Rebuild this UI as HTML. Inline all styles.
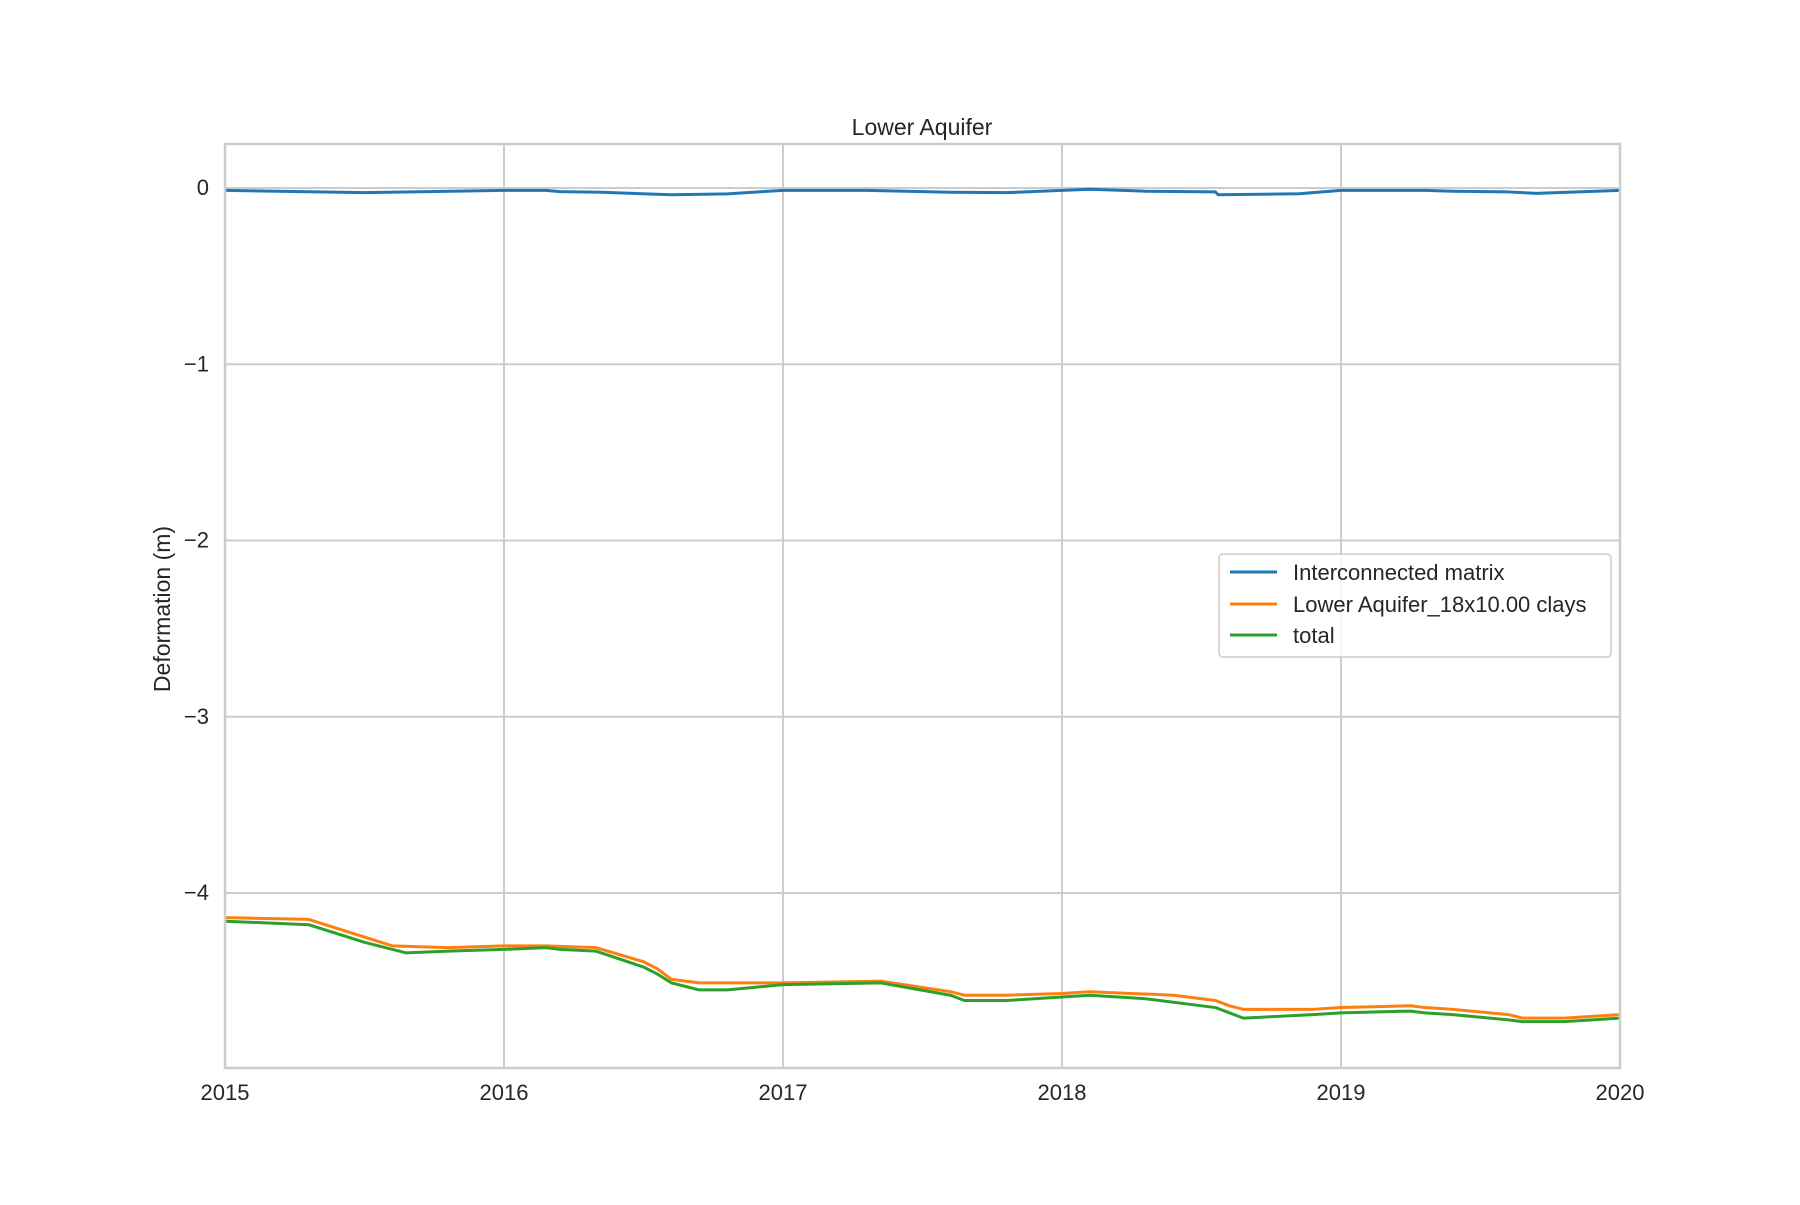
<!DOCTYPE html>
<html><head><meta charset="utf-8"><style>
body{margin:0;background:#fff}
svg text{font-family:"Liberation Sans","DejaVu Sans",sans-serif;fill:#262626}
</style></head><body>
<svg id="chart" width="1800" height="1200" xmlns="http://www.w3.org/2000/svg">
<rect width="1800" height="1200" fill="#fff"/>
<g id="grid"></g>
<g id="series"></g>
<rect x="225" y="144" width="1395" height="924" fill="none" stroke="#cccccc" stroke-width="2.5"/>
<g id="ticks"></g>
<text x="922" y="135" font-size="23" text-anchor="middle">Lower Aquifer</text>
<text x="170" y="609" font-size="23" text-anchor="middle" transform="rotate(-90 170 609)">Deformation (m)</text>
<g transform="translate(-6,-3)">
<rect x="1225" y="557" width="392" height="103" rx="4" fill="#fff" fill-opacity="0.8" stroke="#cccccc" stroke-width="1.5"/>
<line x1="1236" x2="1283" y1="575" y2="575" stroke="#1f77b4" stroke-width="3"/>
<text x="1299" y="583" font-size="22">Interconnected matrix</text>
<line x1="1236" x2="1283" y1="607" y2="607" stroke="#ff7f0e" stroke-width="3"/>
<text x="1299" y="615" font-size="22">Lower Aquifer_18x10.00 clays</text>
<line x1="1236" x2="1283" y1="638" y2="638" stroke="#2ca02c" stroke-width="3"/>
<text x="1299" y="646" font-size="22">total</text>
</g>
</svg>
<script>
const xTicks=[2015,2016,2017,2018,2019,2020];
const yTicks=[0,-1,-2,-3,-4];
const yTickLabels=["0","\u22121","\u22122","\u22123","\u22124"];
const blueX=[2015,2015.5,2016,2016.15,2016.2,2016.35,2016.6,2016.8,2017,2017.3,2017.6,2017.8,2018.1,2018.3,2018.55,2018.56,2018.85,2019,2019.3,2019.4,2019.6,2019.7,2020];
const blueY=[-0.013,-0.026,-0.013,-0.013,-0.02,-0.024,-0.038,-0.033,-0.013,-0.013,-0.024,-0.026,-0.007,-0.018,-0.022,-0.038,-0.032,-0.013,-0.013,-0.018,-0.022,-0.03,-0.013];
const orangeX=[2015,2015.3,2015.5,2015.6,2015.8,2016,2016.15,2016.33,2016.5,2016.55,2016.6,2016.7,2016.9,2017,2017.35,2017.6,2017.65,2017.8,2018,2018.1,2018.4,2018.55,2018.6,2018.65,2018.9,2019,2019.25,2019.3,2019.4,2019.6,2019.65,2019.8,2020];
const orangeY=[-4.14,-4.15,-4.25,-4.30,-4.31,-4.30,-4.30,-4.31,-4.39,-4.43,-4.49,-4.51,-4.51,-4.51,-4.50,-4.56,-4.58,-4.58,-4.57,-4.56,-4.58,-4.61,-4.64,-4.66,-4.66,-4.65,-4.64,-4.65,-4.66,-4.69,-4.71,-4.71,-4.69];
const greenX=[2015,2015.3,2015.5,2015.65,2015.8,2016,2016.15,2016.2,2016.33,2016.5,2016.55,2016.6,2016.7,2016.8,2017,2017.35,2017.6,2017.65,2017.8,2018,2018.1,2018.3,2018.55,2018.6,2018.65,2018.9,2019,2019.25,2019.3,2019.4,2019.6,2019.65,2019.8,2020];
const greenY=[-4.16,-4.18,-4.28,-4.34,-4.33,-4.32,-4.31,-4.32,-4.33,-4.42,-4.46,-4.51,-4.55,-4.55,-4.52,-4.51,-4.58,-4.61,-4.61,-4.59,-4.58,-4.60,-4.65,-4.68,-4.71,-4.69,-4.68,-4.67,-4.68,-4.69,-4.72,-4.73,-4.73,-4.71];
const X0=225,X1=1620,Y0=144,Y1=1068,XMIN=2015,XMAX=2020,YMIN=-4.993,YMAX=0.250;
const sx=v=>X0+(v-XMIN)/(XMAX-XMIN)*(X1-X0);
const sy=v=>Y1-(v-YMIN)/(YMAX-YMIN)*(Y1-Y0);
const NS="http://www.w3.org/2000/svg";
const grid=document.getElementById('grid'),ticks=document.getElementById('ticks'),ser=document.getElementById('series');
xTicks.forEach(t=>{
 const l=document.createElementNS(NS,'line');
 
 
 l.setAttribute('x1',sx(t));l.setAttribute('x2',sx(t));l.setAttribute('y1',Y0);l.setAttribute('y2',Y1);
 l.setAttribute('stroke','#cccccc');l.setAttribute('stroke-width','2');grid.appendChild(l);
 const tx=document.createElementNS(NS,'text');
 
 
 tx.setAttribute('x',sx(t));tx.setAttribute('y',1100);tx.setAttribute('font-size','22');tx.setAttribute('text-anchor','middle');
 tx.textContent=t;ticks.appendChild(tx);
});
yTicks.forEach((t,i)=>{
 const l=document.createElementNS(NS,'line');
 
 
 l.setAttribute('x1',X0);l.setAttribute('x2',X1);l.setAttribute('y1',sy(t));l.setAttribute('y2',sy(t));
 l.setAttribute('stroke','#cccccc');l.setAttribute('stroke-width','2');grid.appendChild(l);
 const tx=document.createElementNS(NS,'text');
 
 
 tx.setAttribute('x',209);tx.setAttribute('y',sy(t)+7);tx.setAttribute('font-size','22');tx.setAttribute('text-anchor','end');
 tx.textContent=yTickLabels[i];ticks.appendChild(tx);
});
function line(xs,ys,c,name){
 const p=document.createElementNS(NS,'polyline');
 
 
 p.setAttribute('points',xs.map((x,i)=>sx(x)+','+sy(ys[i])).join(' '));
 p.setAttribute('fill','none');p.setAttribute('stroke',c);p.setAttribute('stroke-width','3');p.setAttribute('stroke-linejoin','round');
 ser.appendChild(p);
}
line(blueX,blueY,'#1f77b4','line-interconnected-matrix');
line(orangeX,orangeY,'#ff7f0e','line-clays');
line(greenX,greenY,'#2ca02c','line-total');
</script>
</body></html>
